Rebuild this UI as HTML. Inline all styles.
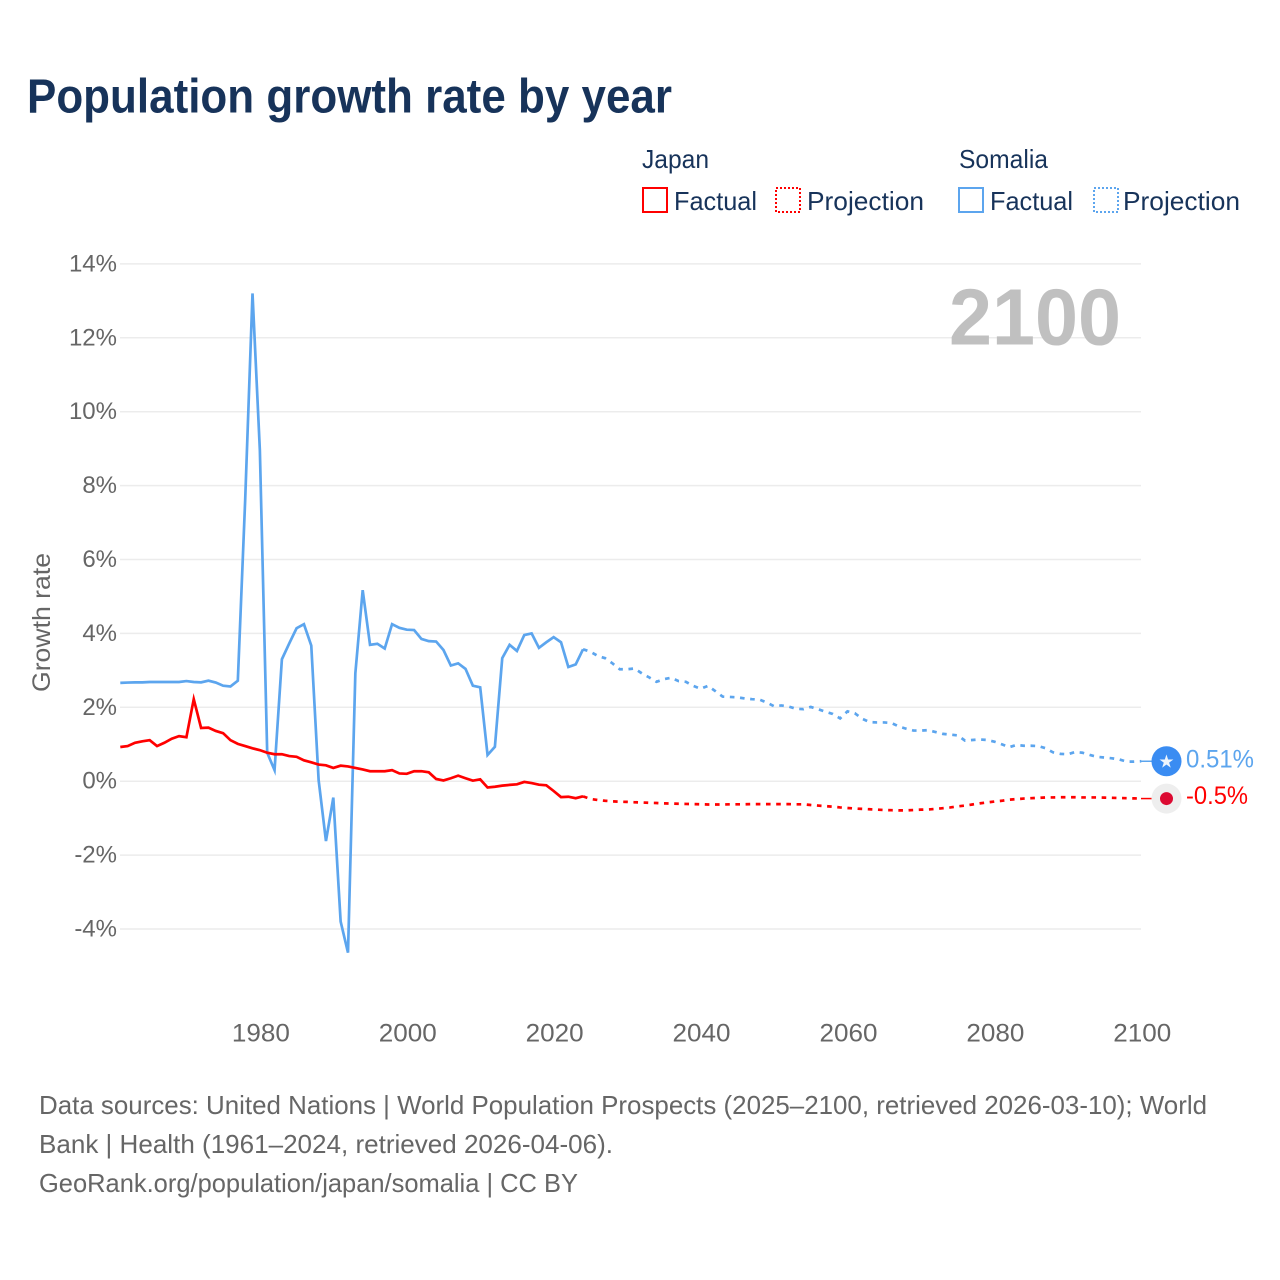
<!DOCTYPE html>
<html lang="en">
<head>
<meta charset="utf-8">
<title>Population growth rate by year</title>
<style>
html,body{margin:0;padding:0;background:#fff;}
svg{display:block;font-family:"Liberation Sans",sans-serif;}
</style>
</head>
<body>
<svg id="chart" xmlns="http://www.w3.org/2000/svg" width="1280" height="1280" viewBox="0 0 1280 1280">
  <rect x="0" y="0" width="1280" height="1280" fill="#ffffff"/>
  <text x="27" y="112.5" font-size="48" font-weight="700" fill="#17335a" textLength="645" lengthAdjust="spacingAndGlyphs">Population growth rate by year</text>

  <g fill="#17335a" font-size="26">
    <text x="642" y="168" textLength="67" lengthAdjust="spacingAndGlyphs">Japan</text>
    <text x="959" y="168" textLength="89" lengthAdjust="spacingAndGlyphs">Somalia</text>
    <g>
      <rect x="643" y="188" width="24" height="24" fill="none" stroke="#ff0000" stroke-width="2"/>
      <text x="674" y="210" textLength="83" lengthAdjust="spacingAndGlyphs">Factual</text>
    </g>
    <g>
      <rect x="776" y="188" width="24" height="24" fill="none" stroke="#ff0000" stroke-width="2" stroke-dasharray="2 2"/>
      <text x="807" y="210" textLength="117" lengthAdjust="spacingAndGlyphs">Projection</text>
    </g>
    <g>
      <rect x="959" y="188" width="24" height="24" fill="none" stroke="#5ca5ee" stroke-width="2"/>
      <text x="990" y="210" textLength="83" lengthAdjust="spacingAndGlyphs">Factual</text>
    </g>
    <g>
      <rect x="1094" y="188" width="24" height="24" fill="none" stroke="#5ca5ee" stroke-width="2" stroke-dasharray="2 2"/>
      <text x="1123" y="210" textLength="117" lengthAdjust="spacingAndGlyphs">Projection</text>
    </g>
  </g>

  <g id="grid"></g>
  <text x="949" y="344.5" font-size="80" font-weight="700" fill="#c0c0c0" textLength="172" lengthAdjust="spacingAndGlyphs">2100</text>
  <g id="yticks"></g>
  <g id="xticks"></g>
  <text transform="translate(50 692) rotate(-90)" font-size="25" fill="#666666" textLength="139" lengthAdjust="spacingAndGlyphs">Growth rate</text>
  <g id="series"></g>
  <g id="ends"></g>

  <g font-size="26" fill="#666666">
    <text x="39" y="1114" textLength="1168" lengthAdjust="spacingAndGlyphs">Data sources: United Nations | World Population Prospects (2025–2100, retrieved 2026-03-10); World</text>
    <text x="39" y="1153" textLength="574" lengthAdjust="spacingAndGlyphs">Bank | Health (1961–2024, retrieved 2026-04-06).</text>
    <text x="39" y="1192" textLength="539" lengthAdjust="spacingAndGlyphs">GeoRank.org/population/japan/somalia | CC BY</text>
  </g>
</svg>
<script>
const firstYear = 1961;
const projectionFirstYear = 2025;
const xTickYears = [1980, 2000, 2020, 2040, 2060, 2080, 2100];
const yTickValues = [14, 12, 10, 8, 6, 4, 2, 0, -2, -4];
const japanFactual = [0.925,0.95,1.04,1.08,1.11,0.95,1.04,1.15,1.22,1.19,2.22,1.44,1.45,1.36,1.30,1.11,1.01,0.95,0.89,0.84,0.77,0.73,0.73,0.68,0.66,0.565,0.51,0.45,0.43,0.36,0.42,0.40,0.36,0.32,0.27,0.27,0.27,0.30,0.21,0.20,0.27,0.27,0.24,0.06,0.02,0.08,0.15,0.08,0.015,0.05,-0.17,-0.15,-0.12,-0.10,-0.085,-0.02,-0.05,-0.095,-0.11,-0.265,-0.43,-0.42,-0.46,-0.41];
const japanProjection = [-0.48,-0.51,-0.53,-0.545,-0.555,-0.56,-0.57,-0.575,-0.585,-0.59,-0.60,-0.605,-0.61,-0.615,-0.62,-0.625,-0.63,-0.63,-0.63,-0.625,-0.625,-0.625,-0.62,-0.62,-0.62,-0.62,-0.62,-0.62,-0.625,-0.625,-0.645,-0.66,-0.675,-0.69,-0.71,-0.725,-0.74,-0.75,-0.76,-0.77,-0.78,-0.785,-0.79,-0.79,-0.78,-0.77,-0.765,-0.75,-0.73,-0.71,-0.68,-0.66,-0.63,-0.60,-0.575,-0.55,-0.53,-0.50,-0.485,-0.47,-0.46,-0.45,-0.44,-0.44,-0.435,-0.435,-0.435,-0.44,-0.44,-0.44,-0.445,-0.45,-0.455,-0.46,-0.465,-0.47];
const somaliaFactual = [2.66,2.67,2.675,2.675,2.685,2.685,2.685,2.685,2.685,2.71,2.685,2.675,2.72,2.67,2.585,2.565,2.72,7.6,13.2,8.96,0.77,0.30,3.30,3.73,4.14,4.25,3.67,0.03,-1.62,-0.445,-3.80,-4.64,2.92,5.17,3.69,3.72,3.59,4.25,4.15,4.10,4.09,3.85,3.79,3.78,3.55,3.13,3.19,3.04,2.585,2.54,0.71,0.93,3.33,3.69,3.525,3.955,4.0,3.61,3.76,3.90,3.76,3.09,3.16,3.57];
const somaliaProjection = [3.505,3.39,3.33,3.19,3.03,3.03,3.05,2.92,2.81,2.69,2.76,2.80,2.71,2.69,2.58,2.50,2.58,2.44,2.29,2.28,2.27,2.24,2.22,2.21,2.13,2.03,2.05,2.02,1.96,1.95,2.01,1.95,1.88,1.82,1.70,1.89,1.84,1.69,1.60,1.59,1.59,1.575,1.48,1.42,1.37,1.37,1.38,1.33,1.28,1.26,1.24,1.10,1.115,1.13,1.115,1.07,1.0,0.92,0.98,0.96,0.96,0.95,0.89,0.78,0.74,0.73,0.79,0.77,0.71,0.66,0.64,0.62,0.59,0.53,0.53,0.54];
const endLabels = ["0.51%", "-0.5%"];

const NS = "http://www.w3.org/2000/svg";
function xScale(year) { return 120.3 + (year - 1961) * 7.345; }
function yScale(value) { return 781.2 - value * 36.95; }
function make(parent, tag, attrs, txt) {
  const el = document.createElementNS(NS, tag);
  Object.keys(attrs).forEach(function (k) { el.setAttribute(k, attrs[k]); });
  if (txt !== undefined) el.textContent = txt;
  parent.appendChild(el);
  return el;
}
function linePath(startYear, values, prefix) {
  return values.reduce(function (d, v, i) {
    const cmd = (d === "" && !prefix) ? "M" : "L";
    return d + cmd + xScale(startYear + i).toFixed(2) + " " + yScale(v).toFixed(2) + " ";
  }, prefix || "");
}

const grid = document.getElementById("grid");
const yticks = document.getElementById("yticks");
yTickValues.forEach(function (v) {
  const line = make(grid, "line", {x1: 120, x2: 1141, y1: yScale(v), y2: yScale(v), stroke: "#ececec", "stroke-width": 1.5});
  
  
  const t = make(yticks, "text", {x: 117, y: yScale(v) + 7.5, "text-anchor": "end", "font-size": 24, fill: "#666666"}, v + "%");
  
  
});
const xticks = document.getElementById("xticks");
xTickYears.forEach(function (yr) {
  const t = make(xticks, "text", {x: xScale(yr) - 29 + 1, y: 1041.5, "font-size": 25, fill: "#666666", textLength: 58, lengthAdjust: "spacingAndGlyphs"}, String(yr));
  
  
});

const RED = "#ff0000";
const BLUE = "#5ca5ee";
const series = document.getElementById("series");
function drawSeries(name, color, factual, projection) {
  const f = make(series, "path", {d: linePath(firstYear, factual), fill: "none", stroke: color, "stroke-width": 2.7, "stroke-linejoin": "miter", "stroke-miterlimit": 6});
  
  
  const lastYear = firstYear + factual.length - 1;
  const start = "M" + xScale(lastYear).toFixed(2) + " " + yScale(factual[factual.length - 1]).toFixed(2) + " ";
  const p = make(series, "path", {d: linePath(projectionFirstYear, projection, start), fill: "none", stroke: color, "stroke-width": 2.7, "stroke-dasharray": "4.6 5.6"});
  
  
}
drawSeries("somalia", BLUE, somaliaFactual, somaliaProjection);
drawSeries("japan", RED, japanFactual, japanProjection);

const ends = document.getElementById("ends");
const cx = 1166.5;
const blueEnd = yScale(somaliaProjection[somaliaProjection.length - 1]);
const redEnd = yScale(japanProjection[japanProjection.length - 1]);

const blueLead = make(ends, "line", {x1: 1141, x2: 1152, y1: blueEnd, y2: blueEnd, stroke: BLUE, "stroke-width": 1.5});


const redLead = make(ends, "line", {x1: 1141, x2: 1152, y1: redEnd, y2: redEnd, stroke: RED, "stroke-width": 1.5});



const blueDot = make(ends, "circle", {cx: cx, cy: blueEnd, r: 15, fill: "#3a8cf2"});


const star = make(ends, "text", {x: cx, y: blueEnd + 6.5, "text-anchor": "middle", "font-size": 18, fill: "#eef4fc", "font-family": "DejaVu Sans, sans-serif"}, "★");


const redBg = make(ends, "circle", {cx: cx, cy: redEnd, r: 15, fill: "#eeeeee"});


const redDot = make(ends, "circle", {cx: cx, cy: redEnd, r: 6.5, fill: "#dc0a32"});



const blueLabel = make(ends, "text", {x: 1186, y: blueEnd + 6.5, "font-size": 25, fill: BLUE, textLength: 68, lengthAdjust: "spacingAndGlyphs"}, endLabels[0]);


const redLabel = make(ends, "text", {x: 1186, y: redEnd + 5.5, "font-size": 25, fill: RED, textLength: 62, lengthAdjust: "spacingAndGlyphs"}, endLabels[1]);


</script>
</body>
</html>
